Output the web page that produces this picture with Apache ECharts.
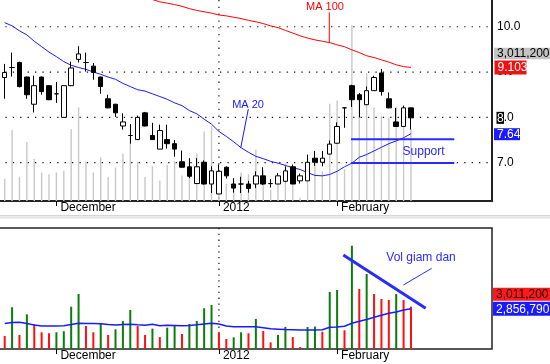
<!DOCTYPE html>
<html><head><meta charset="utf-8">
<script src="https://cdn.jsdelivr.net/npm/echarts@6/dist/echarts.min.js"></script>
<style>html,body{margin:0;padding:0;background:#fff}#c{width:550px;height:364px}</style>
</head><body><div id="c"></div>
<script>
// ---- data (one entry per trading session, index = session number) ----
const open  = [8.88,9.10,9.21,8.89,8.29,8.89,8.70,8.52,8.00,8.70,
               9.28,9.21,9.13,8.89,8.41,8.29,7.81,7.60,7.51,8.10,
               7.60,7.30,7.51,7.42,7.02,6.91,6.54,7.01,6.53,6.31,
               6.90,6.53,6.53,6.53,6.53,6.71,6.54,6.53,6.59,6.91,
               6.60,6.60,7.10,7.01,7.19,7.43,8.21,8.70,8.50,8.28,
               8.59,8.98,8.41,7.90,7.80,8.21];
const close = [8.99,9.10,8.68,8.50,8.70,8.57,8.39,8.52,8.70,9.09,
               9.40,9.21,8.99,8.68,8.21,8.10,7.90,7.60,8.00,7.81,
               7.51,7.71,7.42,7.30,6.90,6.70,6.91,6.53,6.82,6.81,
               6.71,6.44,6.53,6.43,6.71,6.53,6.54,6.71,6.82,6.53,
               6.71,7.01,7.01,7.10,7.41,7.80,8.21,8.39,8.39,8.59,
               8.88,8.57,8.21,7.80,8.21,7.99];
const low   = [8.41,8.90,8.66,8.41,8.11,8.50,8.38,8.32,8.00,8.69,
               9.21,9.01,8.83,8.52,8.20,8.01,7.73,7.42,7.50,7.80,
               7.50,7.30,7.31,7.13,6.90,6.66,6.54,6.52,6.33,6.31,
               6.65,6.34,6.33,6.34,6.44,6.51,6.45,6.53,6.57,6.53,
               6.54,6.60,6.93,6.92,7.19,7.42,7.77,8.23,8.00,8.28,
               8.59,8.48,8.20,7.79,7.80,7.73];
const high  = [9.18,9.43,9.23,8.90,8.92,8.90,8.71,8.78,8.70,9.23,
               9.57,9.43,9.20,8.90,8.50,8.30,8.09,7.85,8.04,8.12,
               7.88,7.84,7.84,7.50,7.27,7.10,7.10,7.05,6.92,6.96,
               6.92,6.66,6.69,6.60,6.81,6.90,6.64,6.77,6.92,6.96,
               6.76,7.18,7.26,7.26,7.49,7.89,8.21,8.72,8.54,8.68,
               8.92,9.07,8.55,8.21,8.26,8.21];
const volume = [930000,2970000,1000000,2470000,1760000,1190000,1120000,1190000,1260000,3010000,
                3910000,1640000,1190000,1830000,1000000,1400000,1990000,2780000,1640000,1000000,
                1450000,850000,1520000,1660000,1070000,1780000,1990000,2900000,3130000,1190000,
                710000,830000,1190000,1120000,2140000,1280000,470000,1000000,1570000,850000,
                140000,1570000,1600000,1230000,4060000,4200000,1330000,7350000,4270000,5340000,
                3910000,3560000,3490000,3910000,3490000,3011200];
const ma20 = [10.09,10.02,9.91,9.82,9.68,9.56,9.44,9.34,9.23,9.15,
              9.10,9.06,9.00,8.95,8.89,8.84,8.75,8.68,8.61,8.58,
              8.52,8.46,8.40,8.32,8.26,8.15,8.08,7.96,7.85,7.69,
              7.58,7.46,7.33,7.23,7.14,7.09,7.03,6.99,6.94,6.89,
              6.85,6.78,6.72,6.71,6.74,6.81,6.91,6.99,7.12,7.18,
              7.26,7.34,7.42,7.48,7.55,7.64];
const ma100 = [null,null,null,null,null,null,null,null,null,null,
               null,null,null,null,null,null,null,null,null,10.64,
               10.60,10.55,10.52,10.49,10.45,10.40,10.36,10.33,10.30,10.26,
               10.24,10.21,10.18,10.14,10.11,10.07,10.02,9.98,9.92,9.86,
               9.80,9.75,9.71,9.68,9.65,9.60,9.56,9.49,9.43,9.36,
               9.32,9.27,9.22,9.16,9.12,9.103];
const volMA = [1810000,1880000,1900000,1810000,1710000,1640000,1640000,1640000,1660000,1740000,
               1830000,1810000,1810000,1800000,1740000,1710000,1740000,1760000,1720000,1690000,
               1760000,1660000,1690000,1670000,1650000,1670000,1720000,1780000,1830000,1780000,
               1640000,1590000,1590000,1590000,1590000,1520000,1440000,1410000,1380000,1370000,
               1350000,1350000,1350000,1370000,1550000,1570000,1620000,1830000,1970000,2100000,
               2260000,2400000,2540000,2630000,2780000,2856790];
const dateTickIdx = [7, 29, 45];
const dateTickLabels = ['December', '2012', 'February'];
const priceTicks = [7, 8, 9, 10];
const yearBreakIdx = 29;
const volLabelTop = '3,011,200';
const volLabelLast = '3,011,200';
const volMALabel = '2,856,790';

// annotations in data coordinates
const ma100Note = {text: 'MA 100', at: [43.36, 10.43], line: [[43.94, 10.316], [43.94, 9.64]]};
const ma20Note  = {text: 'MA 20',  at: [32.94, 8.28],  line: [[32.98, 8.185], [31.95, 7.325]]};
const supportNote = {text: 'Support', at: [56.7, 7.25], lines: [[[46.88, 7.52], [60.86, 7.52]], [[46.88, 6.995], [60.86, 6.995]]]};
const volNote = {text: 'Vol giam dan', at: [56.36, 6510000], trend: [[45.84, 6690000], [56.99, 2900000]], pointer: [[57.8, 5740000], [53.96, 4550000]]};

// ---- chart ----
const FONT = '"Liberation Sans", Arial, sans-serif';
const xMin = -0.907, xMax = 65.967;
const pMin = 6.155, pMax = 10.59;
const vMaxTop = 8400000, vMaxBot = 8610000;
const chart = echarts.init(document.getElementById('c'), null, {renderer: 'canvas', width: 550, height: 364});
const last = open.length - 1;

function xAxisFor(g) {
  return {
    type: 'value', gridIndex: g, min: xMin, max: xMax,
    axisLine: {show: g === 0, onZero: false, lineStyle: {color: '#222', width: 2}},
    splitLine: {show: false},
    axisTick: {show: true, customValues: dateTickIdx, length: 5, lineStyle: {color: '#000', width: 1}},
    axisLabel: {show: true, customValues: dateTickIdx,
      formatter: v => dateTickLabels[dateTickIdx.indexOf(Math.round(v))],
      align: 'left', margin: 1, padding: [0, 0, 0, 4], color: '#000', fontSize: 12, fontFamily: FONT}
  };
}

const option = {
  animation: false,
  backgroundColor: '#fff',
  grid: [
    {left: -2, top: 0, width: 494, height: 201, show: false, containLabel: false, outerBoundsMode: 'none'},
    {left: -2, top: 228, width: 494, height: 121, show: true, borderColor: '#222', borderWidth: 1.5,
     backgroundColor: 'transparent', containLabel: false, outerBoundsMode: 'none'}
  ],
  xAxis: [xAxisFor(0), xAxisFor(1)],
  yAxis: [
    {type: 'value', gridIndex: 0, position: 'right', min: pMin, max: pMax,
     axisLine: {show: true, onZero: false, lineStyle: {color: '#222', width: 2}},
     axisTick: {show: false}, splitLine: {show: false},
     axisLabel: {customValues: priceTicks, formatter: v => Number(v).toFixed(1), margin: 5,
       color: '#000', fontSize: 12, fontFamily: FONT}},
    {type: 'value', gridIndex: 0, min: 0, max: vMaxTop, show: false},
    {type: 'value', gridIndex: 1, position: 'right', min: 0, max: vMaxBot, show: false}
  ],
  series: [
    {type: 'bar', xAxisIndex: 0, yAxisIndex: 1, barWidth: 1.4, silent: true, z: 1,
     itemStyle: {color: '#c8c8c8'}, data: volume.map((v, i) => [i, v])},
    {type: 'line', xAxisIndex: 0, yAxisIndex: 0, symbol: 'none', silent: true, z: 3,
     lineStyle: {color: '#ff0000', width: 1}, data: ma100.map((v, i) => [i, v])},
    {type: 'line', xAxisIndex: 0, yAxisIndex: 0, symbol: 'none', silent: true, z: 3,
     lineStyle: {color: '#1a1aff', width: 1}, data: ma20.map((v, i) => [i, v])},
    {type: 'candlestick', xAxisIndex: 0, yAxisIndex: 0, barWidth: 5, silent: true, z: 5,
     itemStyle: {color: '#fff', color0: '#000', borderColor: '#000', borderColor0: '#000', borderColorDoji: '#000', borderWidth: 1},
     data: open.map((o, i) => [i, o, close[i], low[i], high[i]])},
    {type: 'bar', xAxisIndex: 1, yAxisIndex: 2, barWidth: 2, silent: true, z: 2,
     data: volume.map((v, i) => ({value: [i, v],
       itemStyle: {color: (i > 0 && v > volume[i - 1]) ? '#0a7d0a' : '#ff1010'}}))},
    {type: 'line', xAxisIndex: 1, yAxisIndex: 2, symbol: 'none', silent: true, z: 3,
     lineStyle: {color: '#1a1aff', width: 1.5}, data: volMA.map((v, i) => [i, v])}
  ]
};
chart.setOption(option);

const P0 = (p) => chart.convertToPixel({xAxisIndex: 0, yAxisIndex: 0}, p);
const P1 = (p) => chart.convertToPixel({xAxisIndex: 1, yAxisIndex: 2}, p);
const g = [];
function line(a, b, stroke, w, dash, z) {
  g.push({type: 'line', silent: true, z: z,
    shape: {x1: a[0], y1: a[1], x2: b[0], y2: b[1]},
    style: {stroke: stroke, lineWidth: w, lineDash: dash || null}});
}
function text(t, p, fill, size, align, z) {
  g.push({type: 'text', silent: true, z: z || 20, x: p[0], y: p[1],
    style: {text: t, fill: fill, font: size + 'px ' + FONT, align: align || 'center', verticalAlign: 'middle'}});
}
function box(t, x, yc, w, h, bg, fg) {
  g.push({type: 'rect', silent: true, z: 30, shape: {x: x, y: yc - h / 2, width: w, height: h}, style: {fill: bg}});
  text(t, [x + 3, yc + 0.5], fg, 12, 'left', 31);
}
// dotted price grid lines
priceTicks.forEach(v => line(P0([xMin, v]), P0([xMax, v]), '#111', 1.2, [1.3, 6.1], 0));
// year break dotted lines
line(P0([yearBreakIdx, pMax]), P0([yearBreakIdx, pMin]), '#111', 1.2, [1.3, 5.5], 0);
line(P1([yearBreakIdx, vMaxBot]), P1([yearBreakIdx, 0]), '#111', 1.2, [1.3, 4.5], 0);
// separator between panels
g.push({type: 'rect', silent: true, z: 0, shape: {x: 0, y: 215, width: 550, height: 3}, style: {fill: '#ececec'}});
line([0, 215.5], [550, 215.5], '#d6d6d6', 1, null, 1);
line([0, 218], [550, 218], '#dcdcdc', 1, null, 1);
// annotations
text(ma100Note.text, P0(ma100Note.at), '#ff0000', 11);
line(P0(ma100Note.line[0]), P0(ma100Note.line[1]), '#ff0000', 1, null, 10);
text(ma20Note.text, P0(ma20Note.at), '#1a1aff', 11);
line(P0(ma20Note.line[0]), P0(ma20Note.line[1]), '#1a1aff', 1, null, 10);
text(supportNote.text, P0(supportNote.at), '#2a2aff', 12);
supportNote.lines.forEach(l => line(P0(l[0]), P0(l[1]), '#2a2aff', 2, null, 10));
text(volNote.text, P1(volNote.at), '#2a2aff', 12);
line(P1(volNote.trend[0]), P1(volNote.trend[1]), '#2a2aff', 3, null, 10);
line(P1(volNote.pointer[0]), P1(volNote.pointer[1]), '#2a2aff', 1, null, 10);
// right-side value boxes
box(volLabelTop, 494, 53.5, 56, 11.5, '#c4c4c4', '#000');
box(ma100[last].toFixed(3), 494.5, P0([last, ma100[last]])[1], 32, 14, '#ee1111', '#fff');
box(ma20[last].toFixed(2), 494, P0([last, ma20[last]])[1] + 0.5, 26, 12, '#1a1aff', '#fff');
g.push({type: 'rect', silent: true, z: 30, shape: {x: 496.5, y: P0([last, close[last]])[1] - 6, width: 7.5, height: 12}, style: {fill: '#000'}});
text(String(Math.round(close[last])), [497, P0([last, close[last]])[1] + 0.5], '#fff', 12, 'left', 31);
const yVolLast = P1([last, volume[last]])[1];
const yVolMA = P1([last, volMA[last]])[1];
box(volLabelLast, 493, yVolLast - 12.5, 57, 13, '#ff1a1a', '#200000');
box(volMALabel, 493, yVolMA, 57, 14, '#1a1aff', '#fff');
chart.setOption({graphic: g});
</script>
</body></html>
